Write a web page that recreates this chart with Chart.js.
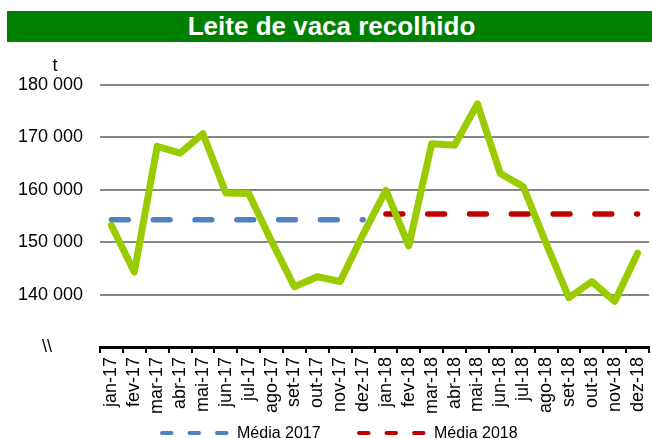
<!DOCTYPE html>
<html>
<head>
<meta charset="utf-8">
<script src="https://cdn.jsdelivr.net/npm/chart.js@4/dist/chart.umd.min.js"></script>
<style>
  html, body { margin: 0; padding: 0; background: #fff; }
  #wrap { position: relative; width: 652px; height: 439px; }
  #titleBar {
    position: absolute; left: 7px; top: 11px; width: 645px; height: 31px;
    background: #008000; color: #fff; text-align: center;
    font: bold 26px "Liberation Sans", Arial, sans-serif; line-height: 31px;
    padding-left: 4px; box-sizing: border-box;
  }
</style>
</head>
<body>
<div id="wrap">
  <canvas id="leiteChart" width="652" height="439"></canvas>
  <div id="titleBar">Leite de vaca recolhido</div>
</div>
<script>
// --- Data ---
const months = ["jan-17", "fev-17", "mar-17", "abr-17", "mai-17", "jun-17", "jul-17", "ago-17",
  "set-17", "out-17", "nov-17", "dez-17", "jan-18", "fev-18", "mar-18", "abr-18", "mai-18",
  "jun-18", "jul-18", "ago-18", "set-18", "out-18", "nov-18", "dez-18"];

const leite = [153200, 144300, 168300, 167000, 170700, 159400, 159300, 150200, 141500, 143400, 142500, 151500,
  159900, 149300, 168800, 168500, 176400, 163100, 160600, 149800, 139400, 142500, 138700, 147900];

const media2017Value = 154300;
const media2018Value = 155400;

const yTicks = [130000, 140000, 150000, 160000, 170000, 180000];

// averages only span their own year
const media2017 = months.map((m, i) => i < 12 ? media2017Value : null);
const media2018 = months.map((m, i) => i >= 12 ? media2018Value : null);

const FONT = "'Liberation Sans', Arial, sans-serif";
Chart.defaults.font.family = FONT;
Chart.defaults.color = "#000";

// --- extra text + legend drawn on the canvas ---
const decorPlugin = {
  id: "decor",
  afterDraw(chart) {
    const c = chart.ctx;
    c.save();
    c.fillStyle = "#000";
    c.font = "18px " + FONT;
    c.textAlign = "center";
    c.textBaseline = "middle";
    c.fillText("t", 55, 66);
    c.fillText("\\\\", 47, 347);

    // legend
    const items = [
      { label: "Média 2017", color: "#4F81BD", x: 160 },
      { label: "Média 2018", color: "#C00000", x: 357 }
    ];
    const y = 433;
    items.forEach(it => {
      c.beginPath();
      c.setLineDash([9.5, 18]);
      c.lineCap = "round";
      c.lineWidth = 4;
      c.strokeStyle = it.color;
      c.moveTo(it.x + 2, y);
      c.lineTo(it.x + 67, y);
      c.stroke();
      c.setLineDash([]);
      c.font = "16px " + FONT;
      c.textAlign = "left";
      c.fillText(it.label, it.x + 77, y + 1);
    });
    c.restore();
  }
};

const ctx = document.getElementById("leiteChart").getContext("2d");
const leiteChart = new Chart(ctx, {
  type: "line",
  data: {
    labels: months,
    datasets: [
      {
        label: "Leite de vaca recolhido",
        data: leite,
        borderColor: "#99CC00",
        borderWidth: 7,
        borderJoinStyle: "round",
        borderCapStyle: "round",
        pointRadius: 0,
        tension: 0,
        order: 1
      },
      {
        label: "Média 2017",
        data: media2017,
        borderColor: "#4F81BD",
        borderWidth: 5.5,
        borderDash: [16.8, 25],
        borderCapStyle: "round",
        pointRadius: 0,
        spanGaps: false,
        order: 2
      },
      {
        label: "Média 2018",
        data: media2018,
        borderColor: "#C00000",
        borderWidth: 5.5,
        borderDash: [16.8, 25],
        borderCapStyle: "round",
        pointRadius: 0,
        spanGaps: false,
        order: 2
      }
    ]
  },
  options: {
    responsive: false,
    animation: false,
    layout: { padding: { top: 85, right: 3, bottom: 0, left: 0 } },
    plugins: {
      legend: { display: false },
      title: { display: false },
      tooltip: { enabled: false }
    },
    scales: {
      x: {
        offset: true,
        grid: {
          offset: true,
          drawOnChartArea: false,
          drawTicks: true,
          tickLength: 6,
          color: "#000",
          lineWidth: 2
        },
        border: { display: true, color: "#000", width: 3 },
        ticks: {
          minRotation: 90,
          maxRotation: 90,
          autoSkip: false,
          padding: 4,
          font: { size: 18 },
          color: "#000"
        },
        afterFit(scale) {
          scale.height = 92;
          scale.paddingLeft = 0;
          scale.paddingRight = 0;
        }
      },
      y: {
        min: yTicks[0],
        max: yTicks[yTicks.length - 1],
        afterBuildTicks(scale) { scale.ticks = yTicks.map(v => ({ value: v })); },
        grid: {
          drawTicks: false,
          color: c => c.tick && c.tick.value === yTicks[0] ? "rgba(0,0,0,0)" : "#868686",
          lineWidth: 2
        },
        border: { display: false },
        ticks: {
          padding: 17,
          font: { size: 18 },
          color: "#000",
          callback: v => v === yTicks[0] ? "" : v.toLocaleString("en-US").replace(/,/g, " ")
        },
        afterFit(scale) { scale.width = 100; }
      }
    }
  },
  plugins: [decorPlugin]
});
</script>
</body>
</html>
